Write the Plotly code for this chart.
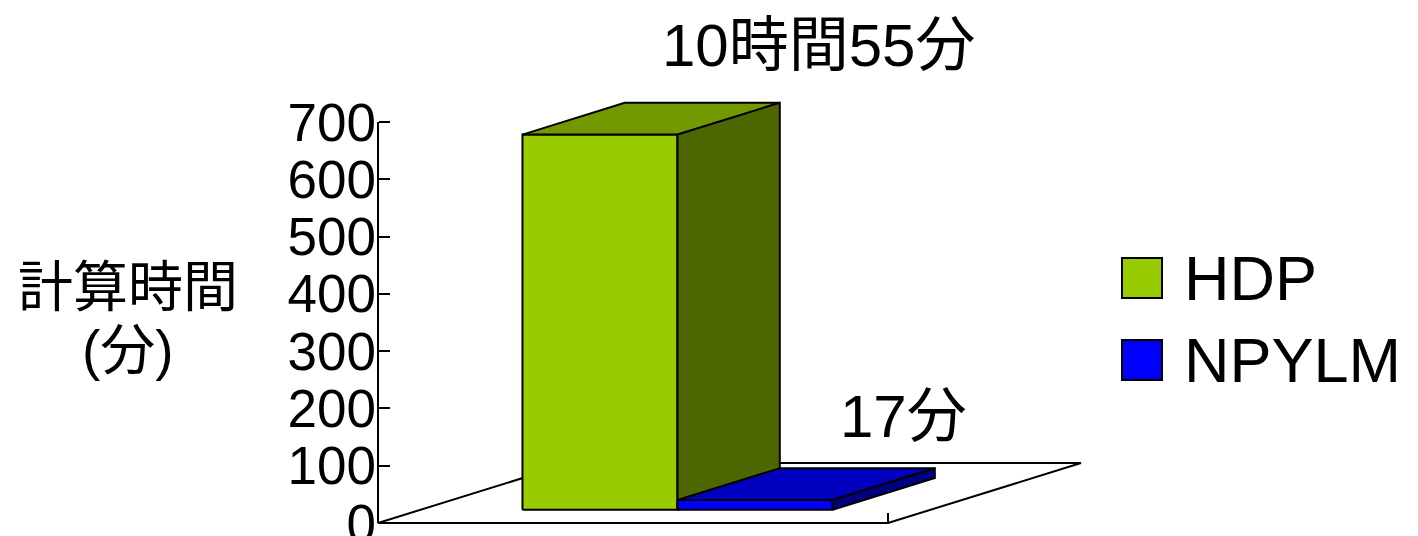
import plotly.graph_objects as go

# ---- data -------------------------------------------------------------
series = ["HDP", "NPYLM"]
minutes = [655, 17]                      # 10時間55分, 17分
value_labels = ["10時間55分", "17分"]
y_ticks = [0, 100, 200, 300, 400, 500, 600, 700]
y_title_lines = ["計算時間", "(分)"]

front_colors = ["#99CC00", "#0000FF"]
top_colors = ["#739900", "#0000BF"]
side_colors = ["#4D6600", "#000080"]

# ---- page / projection settings -----------------------------------------
W, H = 1418, 536
ORIGIN_PX = (378, 523)          # floor front-left corner on the page
PX_PER_X = 510                  # floor width (x: 0 -> 1)
PX_PER_VAL = 401 / 700          # value axis scale
FLOOR_DEPTH_PX = (193, -60)     # oblique depth vector of the floor

DX = FLOOR_DEPTH_PX[0] / PX_PER_X          # depth step in x units
DY = -FLOOR_DEPTH_PX[1] / PX_PER_VAL       # depth step in value units

BAR_GAP = 0.2          # gap before first bar (fraction of floor width)
BAR_W = 0.304          # bar width (fraction of floor width)
D_FRONT, D_BACK = 0.22, 0.75   # bar depth span (fraction of floor depth)

x_range = [-ORIGIN_PX[0] / PX_PER_X, (W - ORIGIN_PX[0]) / PX_PER_X]
y_range = [-(H - ORIGIN_PX[1]) / PX_PER_VAL, ORIGIN_PX[1] / PX_PER_VAL]

FONT = "Liberation Sans, Arial, Noto Sans CJK JP, sans-serif"

fig = go.Figure()


def poly(xs, ys, fill):
    fig.add_trace(go.Scatter(
        x=list(xs) + [xs[0]], y=list(ys) + [ys[0]],
        mode="lines", fill="toself", fillcolor=fill,
        line=dict(color="black", width=2),
        hoverinfo="skip", showlegend=False))


# floor
poly([0, 1, 1 + DX, DX], [0, 0, DY, DY], "white")

# 3-D bars: front, top, right side
for i, v in enumerate(minutes):
    x0 = BAR_GAP + BAR_W * i
    x1 = x0 + BAR_W
    fx, fy = D_FRONT * DX, D_FRONT * DY
    bx, by = D_BACK * DX, D_BACK * DY
    poly([x0 + fx, x1 + fx, x1 + fx, x0 + fx],
         [fy, fy, fy + v, fy + v], front_colors[i])
    poly([x0 + fx, x1 + fx, x1 + bx, x0 + bx],
         [fy + v, fy + v, by + v, by + v], top_colors[i])
    poly([x1 + fx, x1 + bx, x1 + bx, x1 + fx],
         [fy, by, by + v, fy + v], side_colors[i])

# value axis spine
fig.add_shape(type="line", xref="x", yref="y",
              x0=0, y0=0, x1=0, y1=max(y_ticks),
              line=dict(color="black", width=2))

annotations = []
# y-axis title (two lines)
for txt, yc in zip(y_title_lines, [287, 350]):
    annotations.append(dict(
        text=txt, x=128 / W, y=1 - yc / H, xref="paper", yref="paper",
        xanchor="center", yanchor="middle", showarrow=False,
        font=dict(size=55, color="black", family=FONT)))

# value labels
for txt, (xc, yc) in zip(value_labels, [(818, 45), (903, 416)]):
    annotations.append(dict(
        text=txt, x=xc / W, y=1 - yc / H, xref="paper", yref="paper",
        xanchor="center", yanchor="middle", showarrow=False,
        font=dict(size=60, color="black", family=FONT)))

# legend
for i, (name, yc) in enumerate(zip(series, [278, 360])):
    fig.add_shape(type="rect", xref="paper", yref="paper",
                  x0=1122 / W, x1=1162 / W,
                  y0=1 - (yc + 20) / H, y1=1 - (yc - 20) / H,
                  fillcolor=front_colors[i], line=dict(color="black", width=2))
    annotations.append(dict(
        text=name, x=1182 / W, y=1 - yc / H, xref="paper", yref="paper",
        xanchor="left", yanchor="middle", showarrow=False,
        font=dict(size=63, color="black", family=FONT)))

fig.update_layout(
    template="none",
    width=W, height=H,
    margin=dict(l=0, r=0, t=0, b=0, pad=0, autoexpand=False),
    paper_bgcolor="white", plot_bgcolor="white",
    showlegend=False,
    annotations=annotations,
    xaxis=dict(range=x_range, domain=[0, 1], anchor="free",
               position=(H - ORIGIN_PX[1]) / H, automargin=False,
               tickvals=[0, 1], ticks="inside", ticklen=10,
               tickwidth=2, tickcolor="black",
               showticklabels=False, showgrid=False, zeroline=False,
               showline=False, fixedrange=True),
    yaxis=dict(range=y_range, domain=[0, 1], anchor="free",
               position=ORIGIN_PX[0] / W, automargin=False,
               tickvals=y_ticks, ticks="inside", ticklen=11,
               tickwidth=2, tickcolor="black",
               ticklabeloverflow="allow", ticklabelstandoff=2,
               tickfont=dict(size=53, color="black", family=FONT),
               showgrid=False, zeroline=False, showline=False,
               fixedrange=True),
)

fig.write_html("out.html")
